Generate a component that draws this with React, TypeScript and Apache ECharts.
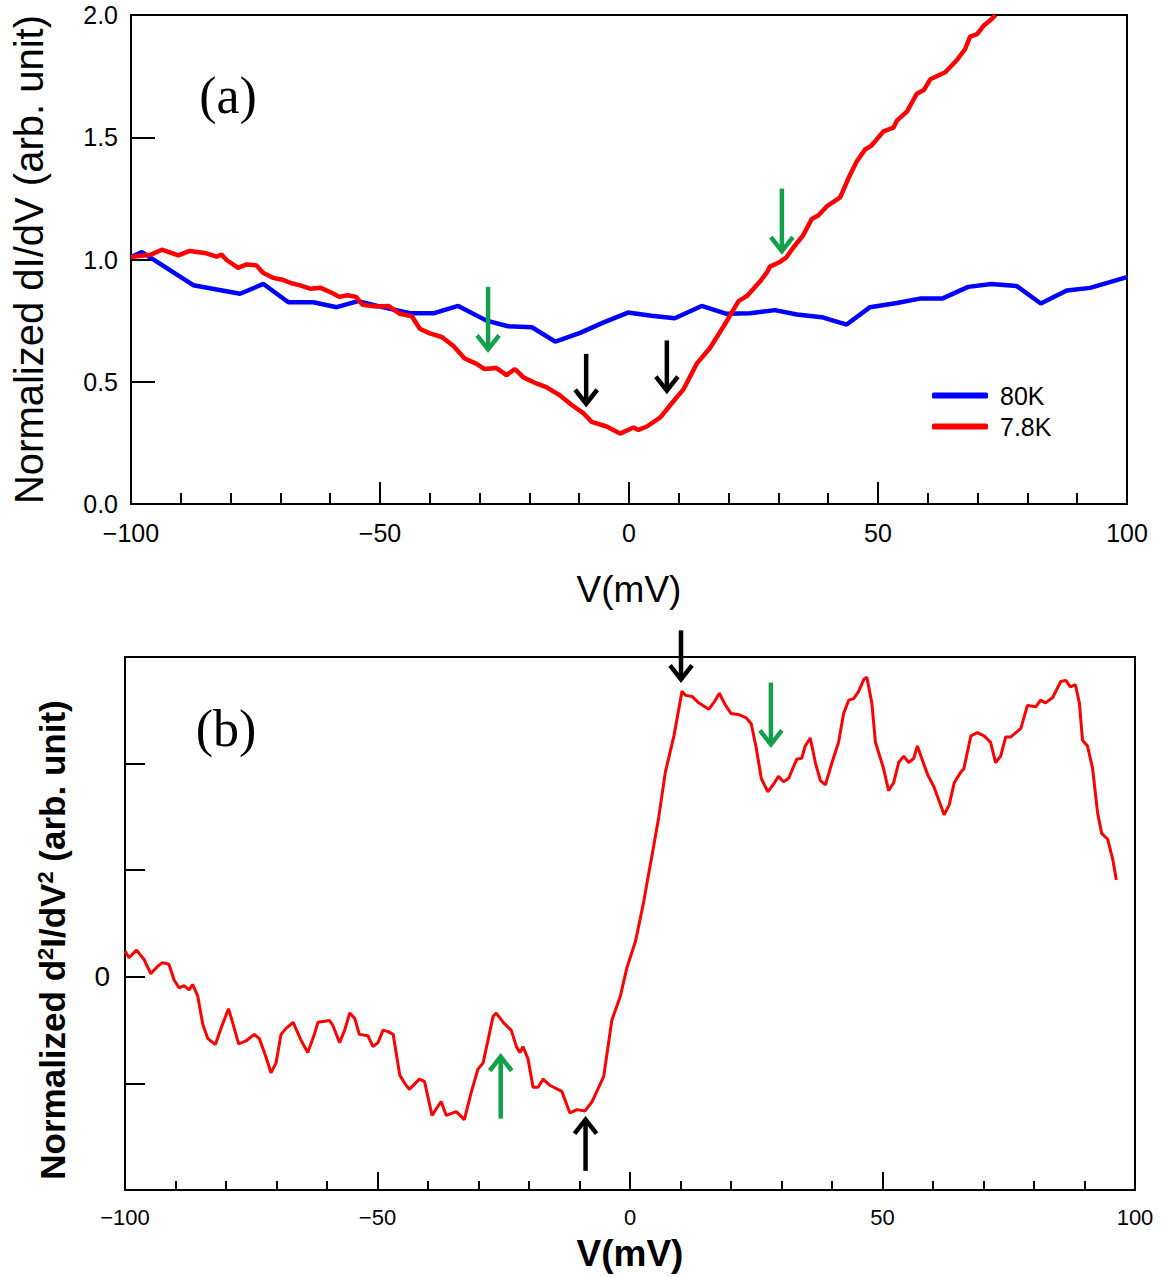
import React, { useEffect, useRef } from "react";
import * as echarts from "echarts";

// ---------- data ----------
const blueV = [-100, -97.8, -87.5, -78.1, -73.4, -68.4, -63.4, -58.7, -54.4, -49.5, -44, -39.3, -34.3, -28.6, -24.3, -19.5, -14.8, -9.8, -5.2, -0.2, 4.5, 9.2, 14.6, 19.6, 24.3, 29.3, 33.7, 38.7, 43.7, 48.4, 53.8, 58.4, 63, 68.1, 72.8, 77.8, 82.7, 87.9, 92.6, 100];
const blueG = [1.01, 1.03, 0.895, 0.86, 0.9, 0.825, 0.825, 0.805, 0.83, 0.805, 0.78, 0.78, 0.81, 0.75, 0.727, 0.723, 0.664, 0.7, 0.742, 0.783, 0.77, 0.76, 0.81, 0.778, 0.78, 0.793, 0.775, 0.764, 0.734, 0.805, 0.822, 0.84, 0.841, 0.888, 0.9, 0.892, 0.82, 0.873, 0.884, 0.928];

const redV = [-100, -98, -96, -93.8, -90.5, -88.2, -85.2, -82.8, -81.8, -80.8, -78.5, -76.8, -74.8, -73.5, -71.5, -69.5, -67.8, -66.2, -63.9, -61.9, -59.5, -58.2, -56.5, -54.8, -53.5, -50.8, -48.3, -46, -43.6, -42, -40, -37.6, -35.3, -33, -30.6, -29, -26.6, -24.6, -22.9, -21.2, -18.6, -16.6, -13.9, -11.5, -9.2, -7.5, -4.5, -1.8, 0.9, 1.9, 3.6, 6.3, 8.3, 11, 13.6, 16.3, 19, 22, 23.7, 26.3, 27.7, 28.3, 30.3, 31.6, 33, 35, 36.7, 38, 39.7, 42.4, 44.1, 45.7, 47.4, 48.7, 51.1, 53.1, 53.8, 55.8, 57.8, 59.2, 60.5, 63.5, 65.9, 67.5, 68.5, 69.9, 71.2, 72.9, 73.6];
const redG = [1.01, 1.015, 1.02, 1.04, 1.017, 1.035, 1.027, 1.012, 1.02, 0.998, 0.966, 0.98, 0.976, 0.946, 0.925, 0.917, 0.903, 0.895, 0.88, 0.884, 0.862, 0.847, 0.854, 0.847, 0.815, 0.808, 0.81, 0.778, 0.768, 0.717, 0.698, 0.683, 0.647, 0.595, 0.573, 0.552, 0.556, 0.527, 0.552, 0.518, 0.493, 0.478, 0.445, 0.405, 0.372, 0.336, 0.317, 0.288, 0.313, 0.303, 0.317, 0.354, 0.405, 0.471, 0.574, 0.639, 0.727, 0.83, 0.851, 0.91, 0.947, 0.971, 0.99, 1.009, 1.049, 1.1, 1.166, 1.18, 1.217, 1.254, 1.334, 1.4, 1.45, 1.466, 1.524, 1.539, 1.568, 1.605, 1.678, 1.693, 1.737, 1.766, 1.817, 1.861, 1.912, 1.922, 1.956, 1.985, 2.0];

const d2V = [-100, -99.2, -97.7, -96.2, -94.9, -93.6, -92.6, -91.3, -90.3, -89.3, -88.3, -87.3, -86.6, -85.6, -84.6, -83.6, -82.1, -81, -79.5, -78.7, -77.5, -76, -74.4, -73.4, -72.1, -71.1, -70.1, -69.1, -68.1, -66.7, -65.1, -63.8, -62.5, -61.8, -59.5, -58.9, -57.5, -56.5, -55.5, -54.5, -53.6, -51.9, -50.9, -49.9, -48.9, -47.9, -46.9, -45.6, -44.6, -43.7, -41.7, -40.7, -39.2, -37.4, -36.4, -34.4, -32.8, -31.5, -30.1, -29.1, -27.1, -26.5, -25.1, -23.5, -22.5, -21.8, -21.2, -20.2, -19.2, -18.2, -17.2, -15.8, -13.5, -11.9, -10.5, -8.9, -7.5, -5.2, -3.6, -1.9, -0.6, 1.1, 2.7, 3.4, 4.7, 5.7, 7.0, 8.7, 10.3, 11, 12.3, 13.6, 15.6, 16.7, 17.7, 18.7, 20, 21.7, 23, 24, 25, 26, 27.3, 28.6, 29.4, 30.4, 31.4, 33, 34, 34.7, 35.7, 36.7, 37.7, 38.7, 40, 41.3, 42.3, 43.3, 44.3, 45.3, 46.3, 46.9, 47.9, 48.6, 50.2, 51.2, 52.2, 53.2, 54.2, 55.2, 56.2, 56.9, 58.9, 60.2, 62.2, 63.2, 64.2, 65.5, 66.1, 67.5, 68.8, 70.1, 71.4, 72.4, 73.4, 74.4, 75.4, 77.4, 78.7, 80.4, 81.3, 82.3, 83.7, 85.3, 86.3, 87.2, 88.2, 89, 89.6, 90.6, 91.6, 92.6, 93.4, 94.6, 95.6, 96.3];
const d2G = [0.24, 0.18, 0.25, 0.16, 0.03, 0.095, 0.133, 0.118, -0.027, -0.103, -0.084, -0.122, -0.072, -0.18, -0.446, -0.58, -0.636, -0.484, -0.3, -0.427, -0.63, -0.6, -0.54, -0.58, -0.75, -0.9, -0.81, -0.54, -0.484, -0.427, -0.6, -0.71, -0.54, -0.427, -0.41, -0.45, -0.617, -0.5, -0.34, -0.39, -0.54, -0.553, -0.655, -0.617, -0.5, -0.514, -0.54, -0.92, -1.0, -1.056, -0.96, -0.98, -1.3, -1.17, -1.3, -1.265, -1.34, -1.094, -0.865, -0.81, -0.37, -0.34, -0.427, -0.503, -0.655, -0.71, -0.655, -0.77, -1.036, -1.036, -0.96, -1.02, -1.075, -1.277, -1.246, -1.258, -1.17, -0.934, -0.408, -0.179, 0.088, 0.335, 0.7, 0.89, 1.23, 1.5, 1.92, 2.26, 2.68, 2.64, 2.63, 2.57, 2.51, 2.58, 2.66, 2.565, 2.47, 2.458, 2.43, 2.374, 2.146, 1.86, 1.734, 1.82, 1.88, 1.83, 1.86, 2.04, 2.05, 2.165, 2.24, 2.01, 1.84, 1.8, 2.01, 2.2, 2.47, 2.595, 2.61, 2.68, 2.79, 2.81, 2.565, 2.2, 1.955, 1.745, 1.82, 2.01, 2.07, 2.01, 2.05, 2.165, 1.9, 1.78, 1.52, 1.61, 1.82, 1.92, 1.95, 2.26, 2.29, 2.26, 2.2, 2.01, 2.07, 2.25, 2.25, 2.33, 2.546, 2.534, 2.595, 2.57, 2.62, 2.77, 2.78, 2.72, 2.74, 2.565, 2.22, 2.165, 1.955, 1.536, 1.345, 1.29, 1.1, 0.907];

// arrows: [x, start value, tip value]
const arrowsAGreen = [[-28.3, 0.888, 0.632], [30.7, 1.29, 1.034]];
const arrowsABlack = [[-8.6, 0.614, 0.41], [7.6, 0.669, 0.464]];
const arrowsBGreen = [[27.9, 2.76, 2.18], [-25.6, -1.33, -0.75]];
const arrowsBBlack = [[10.1, 3.25, 2.79], [-8.8, -1.82, -1.34]];

const seriesNames = ["80K", "7.8K"];
const xTicks = { min: -100, max: 100, step: 50 };

const zip = (a: number[], b: number[]) => a.map((v, i) => [v, b[i]]);
const minus = (v: number) => String(v).replace("-", "\u2212");

const SANS = '"Liberation Sans", Arial, sans-serif';
const GREEN = "#13a04a";

function arrowRenderer(color: string) {
  return (params: any, api: any) => {
    const x = api.value(0);
    const p1 = api.coord([x, api.value(1)]);
    const p2 = api.coord([x, api.value(2)]);
    const dir = p2[1] > p1[1] ? 1 : -1;
    const hw = 11;
    const hl = 14;
    return {
      type: "group",
      children: [
        {
          type: "line",
          shape: { x1: p1[0], y1: p1[1], x2: p2[0], y2: p2[1] - dir * 2 },
          style: { stroke: color, lineWidth: 4.5 },
        },
        {
          type: "polyline",
          shape: {
            points: [
              [p2[0] - hw, p2[1] - dir * hl],
              [p2[0], p2[1]],
              [p2[0] + hw, p2[1] - dir * hl],
            ],
          },
          style: { stroke: color, lineWidth: 4.5, fill: "none" },
        },
      ],
    };
  };
}

const axisLineStyle = { onZero: false, lineStyle: { color: "#000", width: 2 } };

export default function App() {
  const ref = useRef<HTMLDivElement>(null);
  useEffect(() => {
    if (!ref.current) return;
    const chart = echarts.init(ref.current, undefined, { renderer: "svg" });
    const option: any = {
      animation: false,
      backgroundColor: "#fff",
      grid: [
        { left: 131, top: 15, width: 996, height: 489, show: true, borderColor: "#000", borderWidth: 2, containLabel: false },
        { left: 125, top: 657, width: 1010, height: 533, show: true, borderColor: "#000", borderWidth: 2, containLabel: false },
      ],
      xAxis: [
        {
          type: "value", gridIndex: 0, min: xTicks.min, max: xTicks.max, interval: xTicks.step,
          axisLine: axisLineStyle,
          axisTick: { inside: true, length: 22, lineStyle: { color: "#000", width: 2 } },
          minorTick: { show: true, splitNumber: 5, length: 11, lineStyle: { color: "#000", width: 2 } },
          splitLine: { show: false },
          axisLabel: { color: "#000", fontSize: 25, fontFamily: SANS, margin: 16, formatter: (v: number) => minus(v) },
          name: "V(mV)", nameLocation: "middle", nameGap: 67,
          nameTextStyle: { color: "#000", fontSize: 37, fontFamily: SANS },
        },
        {
          type: "value", gridIndex: 1, min: xTicks.min, max: xTicks.max, interval: xTicks.step,
          axisLine: axisLineStyle,
          axisTick: { inside: true, length: 18, lineStyle: { color: "#000", width: 2 } },
          minorTick: { show: true, splitNumber: 5, length: 9, lineStyle: { color: "#000", width: 2 } },
          splitLine: { show: false },
          axisLabel: { color: "#000", fontSize: 22, fontFamily: SANS, margin: 16, formatter: (v: number) => minus(v) },
          name: "V(mV)", nameLocation: "middle", nameGap: 45,
          nameTextStyle: { color: "#000", fontSize: 37, fontWeight: "bold", fontFamily: SANS },
        },
      ],
      yAxis: [
        {
          type: "value", gridIndex: 0, min: 0, max: 2, interval: 0.5,
          axisLine: axisLineStyle,
          axisTick: { inside: true, length: 24, lineStyle: { color: "#000", width: 2 } },
          splitLine: { show: false },
          axisLabel: { color: "#000", fontSize: 25, fontFamily: SANS, margin: 13, formatter: (v: number) => v.toFixed(1) },
          name: "Normalized dI/dV (arb. unit)", nameLocation: "middle", nameGap: 82,
          nameTextStyle: { color: "#000", fontSize: 40, fontFamily: SANS },
        },
        {
          type: "value", gridIndex: 1, min: -2, max: 3, interval: 1,
          axisLine: axisLineStyle,
          axisTick: { inside: true, length: 20, lineStyle: { color: "#000", width: 2 } },
          splitLine: { show: false },
          axisLabel: { color: "#000", fontSize: 28, fontFamily: SANS, margin: 15, formatter: (v: number) => (v === 0 ? "0" : "") },
        },
      ],
      legend: {
        data: seriesNames,
        orient: "vertical",
        left: 932,
        top: 383,
        padding: 0,
        icon: "roundRect",
        itemWidth: 56,
        itemHeight: 6,
        itemGap: 6,
        textStyle: { color: "#000", fontSize: 25, fontFamily: SANS, padding: [0, 0, 0, 7] },
      },
      graphic: [
        { type: "text", x: 228, y: 95, style: { text: "(a)", font: '52px "Liberation Serif"', fontSize: 52, fontFamily: "Liberation Serif", fill: "#000", align: "center", textAlign: "center", verticalAlign: "middle", textVerticalAlign: "middle" } },
        { type: "text", x: 226, y: 728, style: { text: "(b)", font: '52px "Liberation Serif"', fontSize: 52, fontFamily: "Liberation Serif", fill: "#000", align: "center", textAlign: "center", verticalAlign: "middle", textVerticalAlign: "middle" } },
        {
          type: "text", x: 52, y: 940, rotation: Math.PI / 2,
          style: {
            text: "Normalized d{sup|2}I/dV{sup|2} (arb. unit)",
            fontSize: 35, fontWeight: "bold", fontFamily: SANS, fill: "#000",
            align: "center", textAlign: "center", verticalAlign: "middle", textVerticalAlign: "middle",
            rich: { sup: { fontSize: 22, fontWeight: "bold", fontFamily: SANS, verticalAlign: "top", fill: "#000" } },
          },
        },
      ],
      series: [
        { name: "80K", type: "line", xAxisIndex: 0, yAxisIndex: 0, data: zip(blueV, blueG), symbol: "none", lineStyle: { color: "#0000ff", width: 4.5 }, itemStyle: { color: "#0000ff" } },
        { name: "7.8K", type: "line", xAxisIndex: 0, yAxisIndex: 0, data: zip(redV, redG), symbol: "none", lineStyle: { color: "#ff0000", width: 4.5 }, itemStyle: { color: "#ff0000" } },
        { name: "d2", type: "line", xAxisIndex: 1, yAxisIndex: 1, data: zip(d2V, d2G), symbol: "none", lineStyle: { color: "#ff0000", width: 3 }, itemStyle: { color: "#ff0000" } },
        { name: "arrA_g", type: "custom", xAxisIndex: 0, yAxisIndex: 0, data: arrowsAGreen, renderItem: arrowRenderer(GREEN), clip: false, z: 5 },
        { name: "arrA_k", type: "custom", xAxisIndex: 0, yAxisIndex: 0, data: arrowsABlack, renderItem: arrowRenderer("#000"), clip: false, z: 5 },
        { name: "arrB_g", type: "custom", xAxisIndex: 1, yAxisIndex: 1, data: arrowsBGreen, renderItem: arrowRenderer(GREEN), clip: false, z: 5 },
        { name: "arrB_k", type: "custom", xAxisIndex: 1, yAxisIndex: 1, data: arrowsBBlack, renderItem: arrowRenderer("#000"), clip: false, z: 5 },
      ],
    };
    chart.setOption(option);
    return () => chart.dispose();
  }, []);
  return <div ref={ref} style={{ position: "absolute", left: 0, top: 0, width: 1161, height: 1277, background: "#fff" }} />;
}
